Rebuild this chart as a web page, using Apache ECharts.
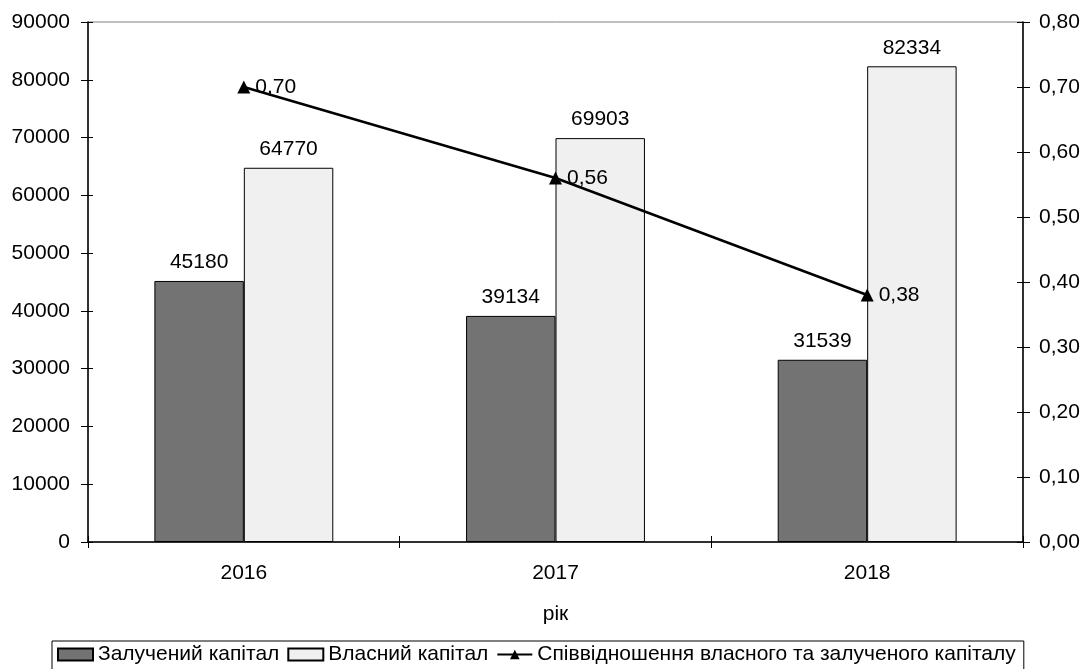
<!DOCTYPE html>
<html>
<head>
<meta charset="utf-8">
<script src="https://cdn.jsdelivr.net/npm/echarts@6/dist/echarts.min.js"></script>
<style>
html,body{margin:0;padding:0;background:#fff;}
#chart{width:1090px;height:669px;}
</style>
</head>
<body>
<div id="chart"></div>
<script>
var categories = ['2016', '2017', '2018'];
var borrowedCapital = [45180, 39134, 31539];
var ownCapital = [64770, 69903, 82334];
var ratio = [0.70, 0.56, 0.38];
var seriesNames = ['Залучений капітал', 'Власний капітал', 'Співвідношення власного та залученого капіталу'];
var xAxisName = 'рік';

var FONT = '"Liberation Sans", Arial, sans-serif';
var FS = 21;
function fmtComma(v){ return Number(v).toFixed(2).replace('.', ','); }
function fmtPlain(v){ return String(v); }

var chart = echarts.init(document.getElementById('chart'), null, {renderer: 'canvas'});
var txt = {color: '#000', fontFamily: FONT, fontSize: FS};

chart.setOption({
  animation: false,
  backgroundColor: '#fff',
  textStyle: {fontFamily: FONT},
  grid: {left: 88, right: 67, top: 22, bottom: 127, show: true, borderColor: '#808080', borderWidth: 1, backgroundColor: 'transparent'},
  legend: {
    left: 52, top: 641,
    padding: [3, 8, 10, 5],
    itemGap: 8, itemWidth: 35, itemHeight: 12,
    borderColor: '#000', borderWidth: 1, borderRadius: 0,
    textStyle: {color: '#000', fontFamily: FONT, fontSize: FS},
    data: [
      {name: seriesNames[0], icon: 'rect'},
      {name: seriesNames[1], icon: 'rect'},
      {name: seriesNames[2]}
    ]
  },
  xAxis: [
    {
      type: 'category', data: categories, boundaryGap: true,
      axisLine: {lineStyle: {color: '#000', width: 1.5}},
      axisTick: {show: true, inside: false, length: 6, lineStyle: {color: '#000'}},
      axisLabel: Object.assign({margin: 21}, txt),
      name: xAxisName, nameLocation: 'middle', nameGap: 62,
      nameTextStyle: {color: '#000', fontFamily: FONT, fontSize: FS}
    },
    {
      type: 'category', data: categories, boundaryGap: true, position: 'bottom',
      axisLine: {show: false},
      axisTick: {show: true, inside: true, length: 6, lineStyle: {color: '#000'}},
      axisLabel: {show: false}
    }
  ],
  yAxis: [
    {
      type: 'value', position: 'left', min: 0, max: 90000, interval: 10000,
      axisLine: {show: true, lineStyle: {color: '#000', width: 1.5}},
      axisTick: {show: true, inside: false, length: 7, lineStyle: {color: '#000'}},
      axisLabel: Object.assign({margin: 18, formatter: fmtPlain}, txt),
      splitLine: {show: false}
    },
    {
      type: 'value', position: 'right', min: 0, max: 0.8, interval: 0.1,
      axisLine: {show: true, lineStyle: {color: '#000', width: 1.5}},
      axisTick: {show: true, inside: false, length: 7, lineStyle: {color: '#000'}},
      axisLabel: Object.assign({margin: 16, formatter: fmtComma}, txt),
      splitLine: {show: false}
    },
    {
      type: 'value', position: 'left', min: 0, max: 90000, interval: 10000,
      axisLine: {show: false},
      axisTick: {show: true, inside: true, length: 5, lineStyle: {color: '#000'}},
      axisLabel: {show: false}, splitLine: {show: false}
    },
    {
      type: 'value', position: 'right', min: 0, max: 0.8, interval: 0.1,
      axisLine: {show: false},
      axisTick: {show: true, inside: true, length: 6, lineStyle: {color: '#000'}},
      axisLabel: {show: false}, splitLine: {show: false}
    }
  ],
  series: [
    {
      name: seriesNames[0], type: 'bar', data: borrowedCapital,
      xAxisIndex: 0, yAxisIndex: 0,
      barGap: '0%', barCategoryGap: '42.6%',
      itemStyle: {color: '#737373', borderColor: '#000', borderWidth: 1},
      label: {show: true, position: 'top', distance: 8, color: '#000', fontFamily: FONT, fontSize: FS}
    },
    {
      name: seriesNames[1], type: 'bar', data: ownCapital,
      xAxisIndex: 0, yAxisIndex: 0,
      barGap: '0%', barCategoryGap: '42.6%',
      itemStyle: {color: '#f0f0f0', borderColor: '#000', borderWidth: 1},
      label: {show: true, position: 'top', distance: 8, color: '#000', fontFamily: FONT, fontSize: FS}
    },
    {
      name: seriesNames[2], type: 'line', data: ratio,
      xAxisIndex: 0, yAxisIndex: 1,
      symbol: 'triangle', symbolSize: 13,
      lineStyle: {color: '#000', width: 2.5},
      itemStyle: {color: '#000'},
      label: {show: true, position: 'right', distance: 5, formatter: function(p){ return fmtComma(p.value); }, color: '#000', fontFamily: FONT, fontSize: FS}
    }
  ]
});
</script>
</body>
</html>
